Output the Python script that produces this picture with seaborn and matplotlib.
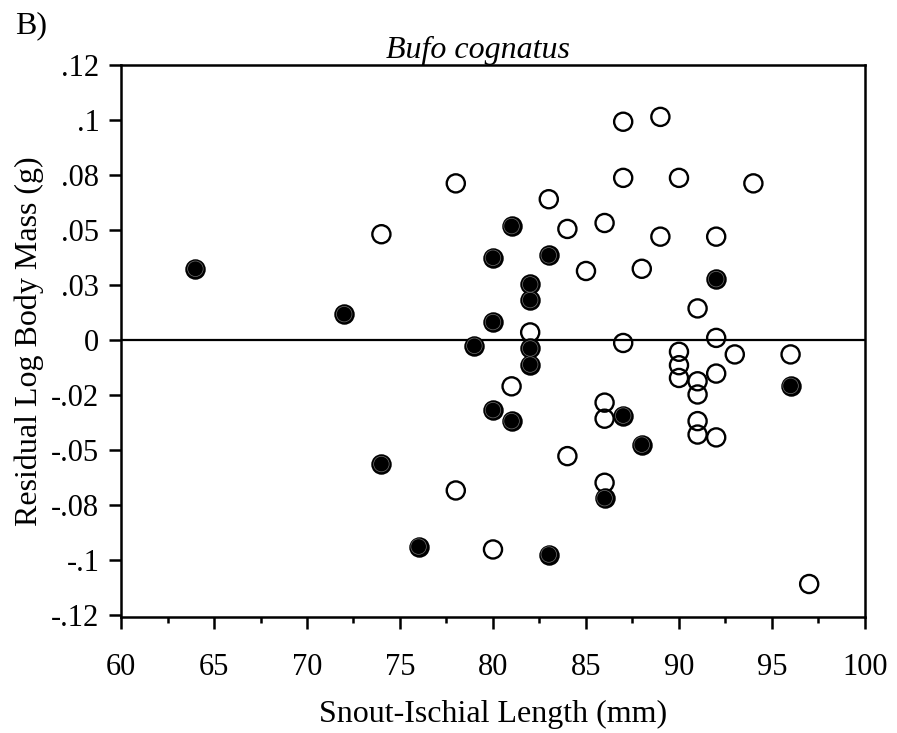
import pandas as pd
import numpy as np
import seaborn as sns
import matplotlib.pyplot as plt
from matplotlib.ticker import MultipleLocator

sns.set_theme(style="ticks")
plt.rcParams['font.family'] = ['Liberation Serif', 'DejaVu Serif']

# open circles
open_sil = [74, 78, 78, 80, 81, 82, 83, 84, 84, 85, 86, 86, 86, 86, 87, 87, 87, 89, 88,
            89, 90, 90, 90, 90, 91, 91, 91, 91, 91, 92, 92, 92, 92, 93, 94, 96, 97]
open_res = [0.0479, 0.071, -0.0685, -0.0953, -0.0212, 0.0033, 0.0638, 0.0503, -0.0529, 0.0312,
            0.053, -0.0286, -0.0359, -0.065, 0.099, 0.0735, -0.0015, 0.1012, 0.0322,
            0.0468, 0.0735, -0.0055, -0.0116, -0.0174, 0.0142, -0.0189, -0.0249, -0.037, -0.0431,
            0.0468, 0.0008, -0.0154, -0.0444, -0.0067, 0.071, -0.0067, -0.111]

# filled circles
filled_sil = [64, 72, 74, 76, 79, 80, 80, 81, 80, 81, 82, 82, 82, 82, 83, 83, 87, 88, 86, 92, 96]
filled_res = [0.0322, 0.0116, -0.0565, -0.094, -0.0028, 0.0372, 0.008, 0.0516, -0.032, -0.037,
              0.0251, 0.018, -0.004, -0.0113, 0.0383, -0.0976, -0.0345, -0.0477, -0.072, 0.0275, -0.021]

y_ticks = [-0.125, -0.1, -0.075, -0.05, -0.025, 0, 0.025, 0.05, 0.075, 0.1, 0.125]
y_labels = ['-.12', '-.1', '-.08', '-.05', '-.02', '0', '.03', '.05', '.08', '.1', '.12']

df_open = pd.DataFrame({'sil': open_sil, 'res': open_res})
df_filled = pd.DataFrame({'sil': filled_sil, 'res': filled_res})

fig = plt.figure(figsize=(8.97, 7.33), dpi=100)
ax = fig.add_axes([0.1349, 0.1576, 0.8294, 0.7544])

ax.axhline(0, color='black', lw=1.6, zorder=1)

sns.scatterplot(data=df_open, x='sil', y='res', ax=ax, s=170, facecolors='none',
                edgecolor='black', linewidth=1.7, zorder=3)
sns.scatterplot(data=df_filled, x='sil', y='res', ax=ax, s=170, color='black',
                edgecolor='black', linewidth=1.7, zorder=4)
# thin grey ring on the filled ones
sns.scatterplot(data=df_filled, x='sil', y='res', ax=ax, s=125, facecolors='none',
                edgecolor='#707070', linewidth=0.5, zorder=5)

ax.set_xlim(60, 100)
ax.set_ylim(-0.1262, 0.125)
ax.xaxis.set_major_locator(MultipleLocator(5))
ax.xaxis.set_minor_locator(MultipleLocator(2.5))
ax.set_yticks(y_ticks)
ax.set_yticklabels(y_labels)

for sp in ax.spines.values():
    sp.set_linewidth(1.8)
    sp.set_color('black')

ax.tick_params(axis='both', which='major', direction='out', length=8.5, width=1.8,
               color='black', labelsize=22, labelcolor='black')
ax.tick_params(axis='x', which='major', pad=17)
ax.tick_params(axis='y', which='major', pad=7)
ax.tick_params(axis='x', which='minor', direction='out', length=4.5, width=1.8, color='black')

ax.set_xlabel('Snout-Ischial Length (mm)', fontsize=23, labelpad=13, color='black')
ax.set_ylabel('Residual Log Body Mass (g)', fontsize=23, labelpad=5, color='black')
ax.set_title('Bufo cognatus', fontsize=23, style='italic', pad=2, x=0.48, color='black')
fig.text(0.0167, 0.955, 'B)', fontsize=23, color='black')

plt.savefig('out.png', dpi=100)
plt.close()
